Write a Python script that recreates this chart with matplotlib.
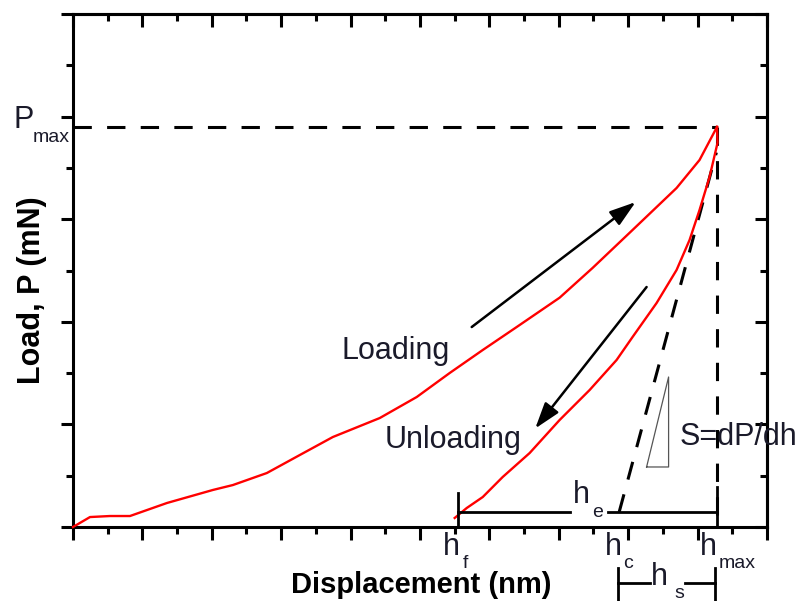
import matplotlib
matplotlib.use('Agg')
import matplotlib.pyplot as plt
import numpy as np

plt.rcParams['font.family'] = ['Liberation Sans', 'DejaVu Sans']

# curve (arbitrary units, x 0-10, y 0-5)
load_x = [0.0, 0.245, 0.533, 0.821, 1.354, 2.016, 2.304, 2.793, 3.269, 3.744,
          4.420, 4.953, 5.428, 5.904, 6.393, 7.012, 7.487, 8.063, 8.697, 9.028, 9.28]
load_y = [0.0, 0.097, 0.107, 0.107, 0.234, 0.361, 0.409, 0.526, 0.702, 0.877,
          1.062, 1.267, 1.501, 1.725, 1.949, 2.235, 2.525, 2.895, 3.304, 3.577, 3.90]

unload_x = [9.28, 9.287, 9.172, 9.028, 8.884, 8.697, 8.409, 8.063, 7.833, 7.444,
            7.012, 6.580, 6.191, 5.904, 5.673, 5.50]
unload_y = [3.90, 3.743, 3.411, 3.090, 2.797, 2.505, 2.183, 1.852, 1.628, 1.335,
            1.043, 0.721, 0.487, 0.292, 0.185, 0.088]

p_max = 3.90
h_f = 5.544
h_c = 7.87
h_max = 9.28
he_y = 0.146

fig = plt.figure(figsize=(8.03, 6.01), dpi=100)
ax = fig.add_axes([73 / 803, 1 - 527 / 601, 694 / 803, 513 / 601])
ax.set_xlim(0, 10)
ax.set_ylim(0, 5)

lw = 2.2
for s in ax.spines.values():
    s.set_linewidth(lw)

ax.set_xticks(np.arange(0, 11, 1))
ax.set_xticks(np.arange(0.5, 10, 1), minor=True)
ax.set_yticks(np.arange(0, 6, 1))
ax.set_yticks(np.arange(0.5, 5, 1), minor=True)
ax.set_xticklabels([])
ax.set_yticklabels([])
ax.tick_params(which='major', direction='out', length=9, width=lw)
ax.tick_params(which='minor', direction='out', length=5, width=lw)

# mirrored ticks pointing inward
top = ax.secondary_xaxis('top')
top.set_xticks(np.arange(0, 11, 1))
top.set_xticks(np.arange(0.5, 10, 1), minor=True)
top.set_xticklabels([])
top.tick_params(which='major', direction='in', length=9, width=lw)
top.tick_params(which='minor', direction='in', length=5, width=lw)
right = ax.secondary_yaxis('right')
right.set_yticks(np.arange(0, 6, 1))
right.set_yticks(np.arange(0.5, 5, 1), minor=True)
right.set_yticklabels([])
right.tick_params(which='major', direction='in', length=9, width=lw)
right.tick_params(which='minor', direction='in', length=5, width=lw)
for a in (top, right):
    for s in a.spines.values():
        s.set_linewidth(lw)

# curves
ax.plot(load_x, load_y, color='red', lw=1.7, zorder=3, clip_on=False)
ax.plot(unload_x, unload_y, color='red', lw=1.7, zorder=3, clip_on=False)

# dashed construction lines
dash = dict(color='black', lw=2.2, dashes=(6, 5), zorder=2)
ax.plot([0, h_max], [p_max, p_max], **dash)
ax.plot([h_max, h_max], [p_max, 0.0], **dash)
ax.plot([h_c, 9.27], [he_y, 3.65], **dash)

# stiffness triangle
ax.plot([8.265, 8.582, 8.582, 8.265], [0.585, 0.585, 1.462, 0.585],
        color='#555555', lw=0.9)

# h_e bar
solid = dict(color='black', lw=2.0, zorder=4, clip_on=False)
ax.plot([h_f, 7.156], [he_y, he_y], **solid)
ax.plot([7.703, h_max], [he_y, he_y], **solid)
ax.plot([h_f, h_f], [0, 0.33], **solid)
ax.plot([h_max, h_max], [0, 0.39], **solid)

# h_s bar below axis
hs_y = -0.546
ax.plot([7.847, 8.308], [hs_y, hs_y], **solid)
ax.plot([8.812, 9.244], [hs_y, hs_y], **solid)
ax.plot([7.847, 7.847], [-0.40, -0.71], **solid)
ax.plot([9.244, 9.244], [-0.40, -0.71], **solid)

# arrows
arr = dict(arrowstyle='-|>,head_length=0.4,head_width=0.13', color='black',
           lw=1.8, mutation_scale=40, shrinkA=0, shrinkB=0)
ax.annotate('', xy=(8.107, 3.167), xytext=(5.745, 1.949), arrowprops=arr)
ax.annotate('', xy=(6.66, 0.96), xytext=(8.265, 2.339), arrowprops=arr)

tc = '#1a1a2a'
big = 22
small = 14
txt = dict(color=tc, ha='left', va='baseline', clip_on=False, zorder=6)
ax.text(3.873, 1.637, 'Loading', fontsize=big, **txt)
ax.text(4.492, 0.770, 'Unloading', fontsize=big, **txt)
ax.text(8.74, 0.799, 'S=dP/dh', fontsize=big, **txt)

ax.text(-0.864, 3.889, 'P', fontsize=big, **txt)
ax.text(-0.576, 3.752, 'max', fontsize=small, **txt)

ax.text(5.33, -0.273, 'h', fontsize=big, **txt)
ax.text(5.62, -0.400, 'f', fontsize=small, **txt)
ax.text(7.66, -0.273, 'h', fontsize=big, **txt)
ax.text(7.93, -0.400, 'c', fontsize=small, **txt)
ax.text(9.03, -0.273, 'h', fontsize=big, **txt)
ax.text(9.31, -0.400, 'max', fontsize=small, **txt)
ax.text(7.20, 0.234, 'h', fontsize=big, **txt)
ax.text(7.48, 0.097, 'e', fontsize=small, **txt)
ax.text(8.33, -0.565, 'h', fontsize=big, **txt)
ax.text(8.66, -0.692, 's', fontsize=small, **txt)

fig.text(421 / 803, 1 - 593 / 601, 'Displacement (nm)', fontsize=21,
         fontweight='bold', ha='center', va='baseline')
fig.text(40 / 803, 1 - 290 / 601, 'Load, P (mN)', fontsize=22,
         fontweight='bold', ha='center', va='baseline', rotation=90,
         rotation_mode='anchor')

fig.savefig('out.png', dpi=100)
